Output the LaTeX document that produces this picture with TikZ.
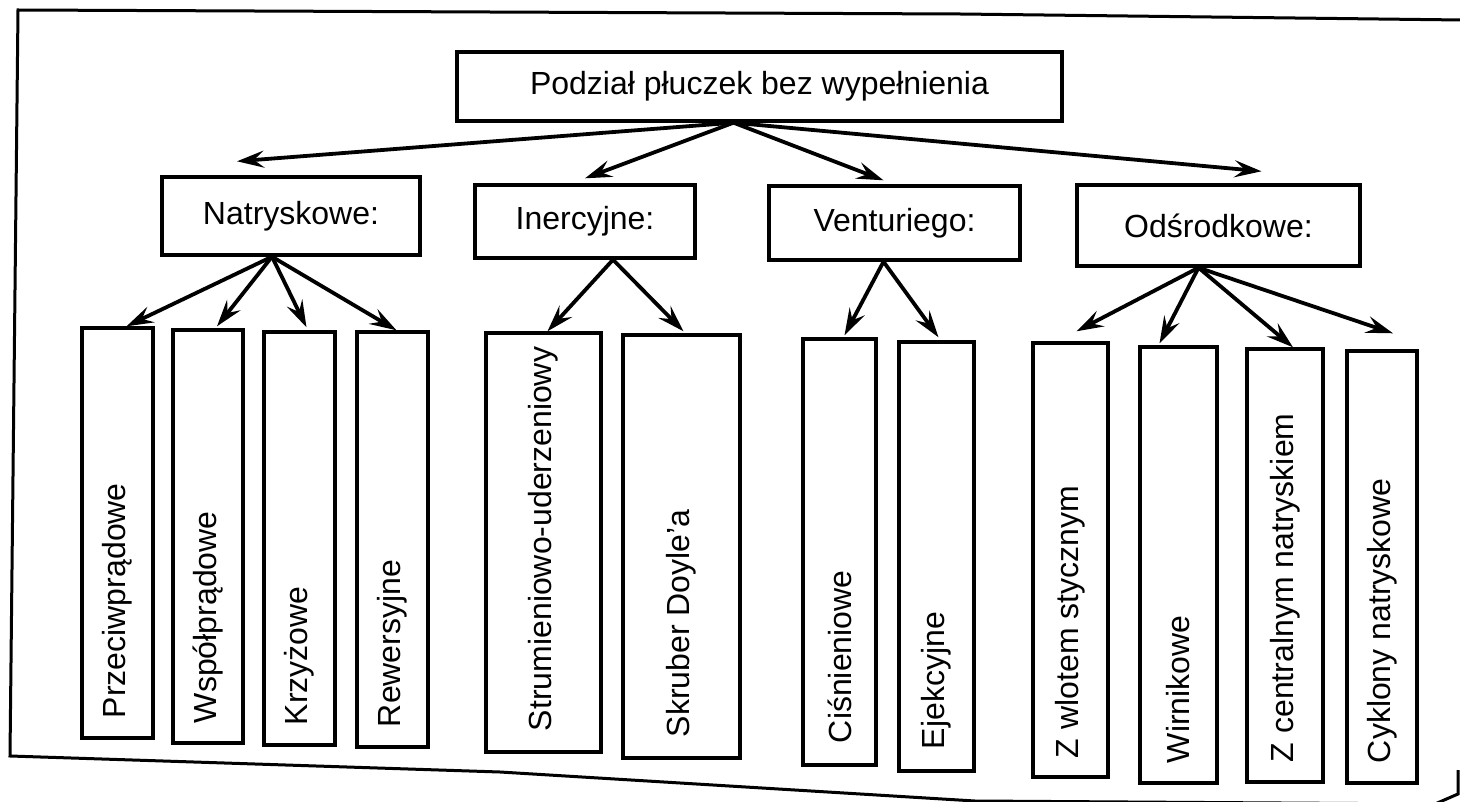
\documentclass[tikz,border=0pt]{standalone}
\usepackage{fontspec}
\setmainfont{Liberation Sans}
\usepackage{graphicx}
\usetikzlibrary{arrows.meta}
% text set upright, starting at the lower end of a tall box
\newcommand\uptext[2]{\rotatebox{90}{\makebox[#1][l]{#2}}}
\begin{document}
\begin{tikzpicture}[x=1pt,y=-1pt,
  every node/.style={font=\fontsize{32}{38}\selectfont},
  catbox/.style={draw, line width=3.4pt, inner sep=0pt},
  leaf/.style={draw, line width=3.4pt, inner sep=0pt},
  link/.style={line width=3.8pt, -{Stealth[length=27pt,width=17pt,inset=10pt]}},
  frame/.style={line width=3pt, line join=miter}]
\fill[white] (0,0) rectangle (1460,802);
\useasboundingbox (0,0) rectangle (1460,802);

% outer frame
\draw[frame] (1462,20) -- (960,14) -- (18,10) -- (10,756) -- (500,772) -- (975,801) -- (1435,804) -- (1458,794) -- (1458,770);

% top level
\node[catbox, minimum width=605pt, minimum height=69pt] (root) at (759.5,86.5) {Podział płuczek bez wypełnienia};

% groups
\node[catbox, minimum width=258pt, minimum height=78pt] (nat) at (291,216) {Natryskowe:};
\node[catbox, minimum width=220pt, minimum height=73pt] (ine) at (585,221.5) {Inercyjne:};
\node[catbox, minimum width=251pt, minimum height=74pt] (ven) at (894.5,223) {Venturiego:};
\node[catbox, minimum width=283pt, minimum height=81pt] (ods) at (1218.5,225.5) {Odśrodkowe:};

% kinds
\node[leaf, minimum width=71pt, minimum height=410pt] (p1) at (117.5,533) {\uptext{370pt}{Przeciwprądowe}};
\node[leaf, minimum width=70pt, minimum height=413pt] (p2) at (208,536.5) {\uptext{373pt}{Współprądowe}};
\node[leaf, minimum width=71pt, minimum height=413pt] (p3) at (299.5,538.5) {\uptext{373pt}{Krzyżowe}};
\node[leaf, minimum width=71pt, minimum height=415pt] (p4) at (392.5,539.5) {\uptext{375pt}{Rewersyjne}};
\node[leaf, minimum width=115pt, minimum height=419pt] (i1) at (543.5,542.5) {\uptext{377pt}{Strumieniowo-uderzeniowy}};
\node[leaf, minimum width=117pt, minimum height=423pt] (i2) at (681.5,546.5) {\uptext{381pt}{Skruber Doyle’a}};
\node[leaf, minimum width=73pt, minimum height=426pt] (v1) at (839.5,552) {\uptext{382pt}{Ciśnieniowe}};
\node[leaf, minimum width=75pt, minimum height=429pt] (v2) at (936.5,556.5) {\uptext{385pt}{Ejekcyjne}};
\node[leaf, minimum width=75pt, minimum height=434pt] (o1) at (1070.5,560) {\uptext{396pt}{Z wlotem stycznym}};
\node[leaf, minimum width=77pt, minimum height=436pt] (o2) at (1178.5,565) {\uptext{396pt}{Wirnikowe}};
\node[leaf, minimum width=76pt, minimum height=433pt] (o3) at (1285,565.5) {\uptext{393pt}{Z centralnym natryskiem}};
\node[leaf, minimum width=70pt, minimum height=432pt] (o4) at (1382,567) {\uptext{392pt}{Cyklony natryskowe}};

% links from the top box
\draw[link] ([xshift=-26pt]root.south) -- ([xshift=-54pt,yshift=14pt]nat.north);
\draw[link] ([xshift=-26pt]root.south) -- ([yshift=5pt]ine.north);
\draw[link] ([xshift=-26pt]root.south) -- ([xshift=-11pt,yshift=4pt]ven.north);
\draw[link] ([xshift=-26pt]root.south) -- ([xshift=43pt,yshift=12pt]ods.north);

% links from the groups
\draw[link] ([xshift=-19pt]nat.south) -- ([xshift=9pt]p1.north);
\draw[link] ([xshift=-19pt]nat.south) -- ([xshift=9pt,yshift=2pt]p2.north);
\draw[link] ([xshift=-19pt]nat.south) -- ([xshift=7pt,yshift=3pt]p3.north);
\draw[link] ([xshift=-19pt]nat.south) -- ([xshift=4pt]p4.north);

\draw[link] ([xshift=28pt]ine.south) -- ([xshift=4pt]i1.north);
\draw[link] ([xshift=28pt]ine.south) -- ([xshift=2pt,yshift=2pt]i2.north);

\draw[link] ([xshift=-11pt]ven.south) -- ([xshift=5pt,yshift=2pt]v1.north);
\draw[link] ([xshift=-11pt]ven.south) -- ([xshift=2pt,yshift=3pt]v2.north);

\draw[link] ([xshift=-20pt]ods.south) -- ([xshift=6pt,yshift=10pt]o1.north);
\draw[link] ([xshift=-20pt]ods.south) -- ([xshift=-19pt,yshift=2pt]o2.north);
\draw[link] ([xshift=-20pt]ods.south) -- ([xshift=8pt]o3.north);
\draw[link] ([xshift=-20pt]ods.south) -- ([xshift=11pt,yshift=16pt]o4.north);
\end{tikzpicture}
\end{document}
